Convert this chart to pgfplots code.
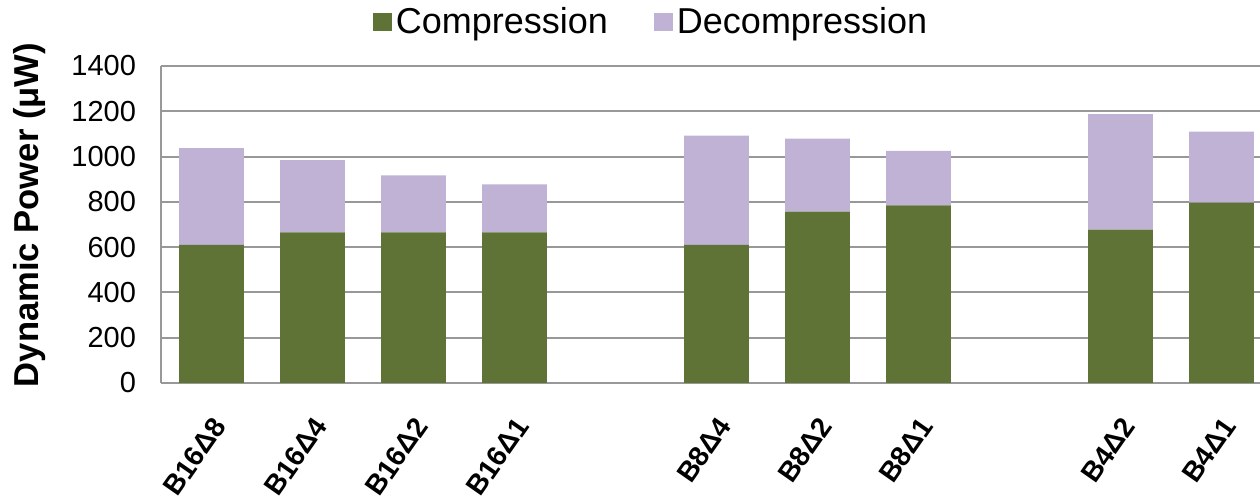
\documentclass[border=0pt]{standalone}
\usepackage{fontspec}
\setmainfont{Liberation Sans}
\usepackage{pgfplots}
\pgfplotsset{compat=1.18}
\definecolor{compgreen}{RGB}{95,115,55}
\definecolor{decomppurple}{RGB}{191,178,212}
\definecolor{gridgray}{RGB}{152,152,152}
\begin{document}
\begin{tikzpicture}
\path[use as bounding box] (0,0) rectangle (630pt,251pt);
\begin{axis}[
  at={(80.5pt,59.5pt)}, anchor=south west,
  scale only axis,
  width=550.45pt, height=158.5pt,
  ybar stacked, bar width=0.64,
  xmin=-0.5, xmax=10.4,
  ymin=0, ymax=1400,
  ytick={0,200,...,1400},
  xtick={0,1,2,3,5,6,7,9,10},
  xticklabels={B16Δ8,B16Δ4,B16Δ2,B16Δ1,B8Δ4,B8Δ2,B8Δ1,B4Δ2,B4Δ1},
  axis lines*=left,
  axis line style={draw=gridgray, line width=1pt},
  ymajorgrids,
  major grid style={draw=gridgray, line width=1pt},
  major tick length=0pt,
  tick style={draw=none},
  /pgf/number format/assume math mode=true,
  /pgf/number format/set thousands separator={},
  yticklabel style={font=\fontsize{14.5}{16}\selectfont, xshift=-9pt},
  xticklabel style={font=\bfseries\fontsize{14}{16}\selectfont, xshift=6pt, yshift=-16pt, rotate=55, anchor=east},
  ylabel={\bfseries Dynamic Power (μW)},
  ylabel style={font=\fontsize{17.3}{19}\selectfont, at={(axis description cs:-0.119,0.53)}, anchor=center},
  legend style={at={(axis description cs:0.446,1.139)}, anchor=center, draw=none, fill=none,
    legend columns=2, font=\fontsize{18}{20}\selectfont,
    /tikz/every even column/.append style={column sep=21pt}},
  legend image code/.code={\fill[#1] (0pt,-4.5pt) rectangle (9.5pt,4.5pt);},
]
\addplot[fill=compgreen, draw=none] coordinates {(0,610) (1,665) (2,665) (3,665) (5,610) (6,757) (7,784) (9,677) (10,797)};
\addplot[fill=decomppurple, draw=none] coordinates {(0,427) (1,319) (2,252) (3,212) (5,482) (6,322) (7,241) (9,510) (10,313)};
\legend{Compression,Decompression}
\end{axis}
\end{tikzpicture}
\end{document}
